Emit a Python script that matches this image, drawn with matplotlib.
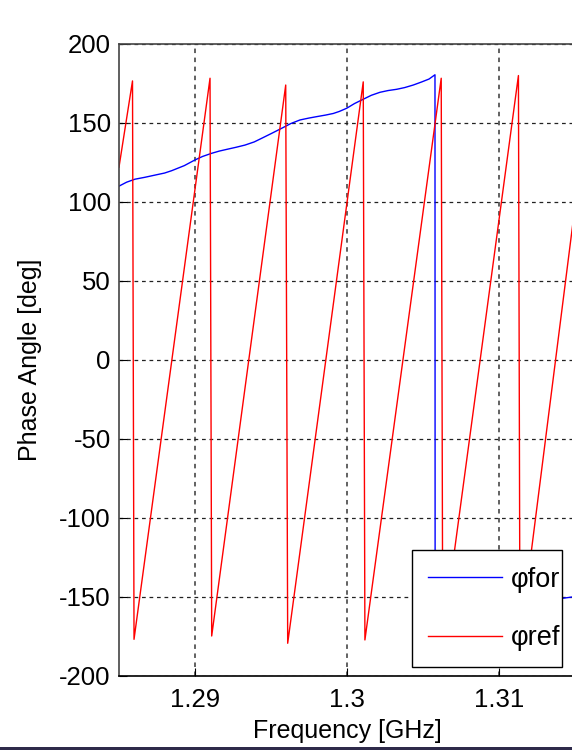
import matplotlib
matplotlib.use("Agg")
import matplotlib.pyplot as plt
from matplotlib.patches import Rectangle

# forward wave phase [deg] vs frequency [GHz]
freq_for = [1.28500, 1.28550, 1.28605, 1.28670, 1.28737, 1.28800, 1.28847, 1.28930,
            1.29000, 1.29050, 1.29110, 1.29160, 1.29219, 1.29270, 1.29329, 1.29390,
            1.29439, 1.29500, 1.29570, 1.29630, 1.29691, 1.29750, 1.29801, 1.29860,
            1.29910, 1.29950, 1.29998, 1.30050, 1.30107, 1.30160, 1.30217, 1.30270,
            1.30327, 1.30380, 1.30436, 1.30490, 1.30540, 1.30579, 1.30580, 1.31413,
            1.31500]
phase_for = [110.0, 112.5, 114.4, 115.6, 117.0, 118.3, 119.8, 123.0,
             126.6, 128.8, 130.8, 132.2, 133.5, 134.6, 136.0, 138.0,
             140.3, 143.2, 146.6, 149.6, 151.9, 153.1, 154.0, 155.0,
             156.0, 157.3, 159.3, 162.3, 165.0, 167.5, 169.4, 170.5,
             171.3, 172.4, 174.0, 175.9, 177.8, 180.5, -179.5, -150.9,
             -149.8]

# reflected wave phase [deg], wraps every ~5 MHz
freq_ref = [1.28500, 1.28589, 1.28599, 1.29099, 1.29110, 1.29597, 1.29610,
            1.30107, 1.30118, 1.30620, 1.30630, 1.31128, 1.31138, 1.31500]
phase_ref = [122.0, 176.6, -176.8, 178.3, -174.7, 174.0, -179.3,
             176.0, -177.2, 178.3, -176.0, 180.0, -178.0, 97.0]

xticks = [1.29, 1.30, 1.31]
xtick_labels = ["1.29", "1.3", "1.31"]
yticks = [-200, -150, -100, -50, 0, 50, 100, 150, 200]

plt.rcParams["font.family"] = ["Liberation Sans", "DejaVu Sans"]
plt.rcParams["axes.unicode_minus"] = False

fig = plt.figure(figsize=(5.72, 7.5), dpi=100)
ax = fig.add_axes([0.2080, 0.0987, 0.7972, 0.8427])

ax.plot(freq_for, phase_for, color="#0000ff", lw=1.0, label="φfor")
ax.plot(freq_ref, phase_ref, color="#ff0000", lw=1.0, label="φref")

ax.set_xlim(1.285, 1.315)
ax.set_ylim(-200, 200)
ax.set_xticks(xticks)
ax.set_xticklabels(xtick_labels)
ax.set_yticks(yticks)
ax.tick_params(direction="in", length=6, width=0.8, labelsize=18.5, colors="black")
ax.tick_params(axis="x", pad=9)
ax.tick_params(axis="y", pad=6)

ax.yaxis.grid(True, linestyle=(0, (3, 3)), color="#222222", lw=0.9)
ax.xaxis.grid(True, linestyle=(0, (2.5, 2.5)), color="#555555", lw=1.3)
for side in ("top", "left"):
    ax.spines[side].set_color("#444444")
    ax.spines[side].set_linewidth(1.2)
ax.spines["bottom"].set_color("black")
ax.spines["bottom"].set_linewidth(1.2)

ax.set_xlabel("Frequency [GHz]", fontsize=18, labelpad=5)
ax.set_ylabel("Phase Angle [deg]", fontsize=18, labelpad=12)

leg = ax.legend(loc="lower left", bbox_to_anchor=(0.642, 0.0138, 0.329, 0.195),
                mode="expand", fontsize=19.5, frameon=True, fancybox=False,
                edgecolor="black", framealpha=1, handlelength=2.75,
                handletextpad=0.3, labelspacing=1.2, borderpad=0.6, borderaxespad=0)
leg.get_frame().set_linewidth(1.0)

# dark strip along the bottom edge
fig.patches.append(Rectangle((0, 0), 1, 3 / 750, transform=fig.transFigure,
                             facecolor="#2e2a4a", edgecolor="none"))

fig.savefig("out.png", dpi=100)
